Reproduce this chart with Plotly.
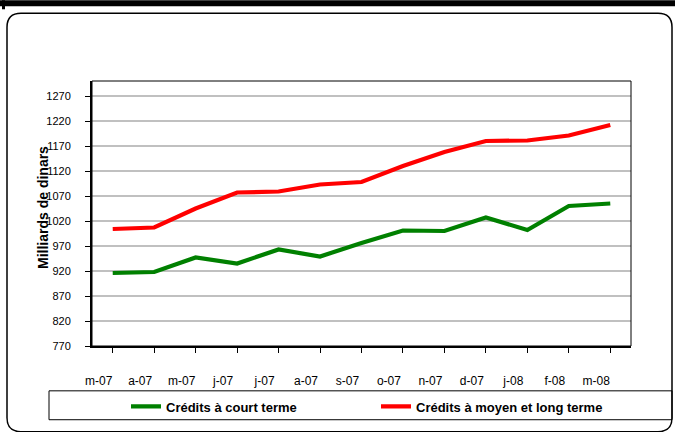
import plotly.graph_objects as go

months = ["m-07", "a-07", "m-07", "j-07", "j-07", "a-07", "s-07", "o-07",
          "n-07", "d-07", "j-08", "f-08", "m-08"]
court_terme = [916, 918, 947, 935, 963, 949, 976, 1001, 1000, 1027, 1002, 1050, 1055]
moyen_long_terme = [1004, 1007, 1045, 1077, 1079, 1093, 1098, 1130, 1158, 1180, 1181, 1191, 1212]
y_ticks = [770, 820, 870, 920, 970, 1020, 1070, 1120, 1170, 1220, 1270]

W, H = 675, 432
ML, MR, MT, MB = 92, 44, 81, 85
PW, PH = W - ML - MR, H - MT - MB

def fx(px):
    return (px - ML) / PW

def fy(py):
    return (H - MB - py) / PH

x_idx = list(range(len(months)))

fig = go.Figure()
fig.add_trace(go.Scatter(x=x_idx, y=court_terme, mode="lines",
                         name="<b>Crédits à court terme</b>",
                         line=dict(color="#008000", width=4.2)))
fig.add_trace(go.Scatter(x=x_idx, y=moyen_long_terme, mode="lines",
                         name="<b>Crédits à moyen et long terme</b>",
                         line=dict(color="#ff0000", width=4.2)))

font = "Liberation Sans, Arial, sans-serif"

# rounded outer frame
x0, x1, y0, y1, r = 7, 672, 13, 433, 14
path = (f"M {fx(x0+r)},{fy(y0)} L {fx(x1-r)},{fy(y0)} Q {fx(x1)},{fy(y0)} {fx(x1)},{fy(y0+r)} "
        f"L {fx(x1)},{fy(y1-r)} Q {fx(x1)},{fy(y1)} {fx(x1-r)},{fy(y1)} "
        f"L {fx(x0+r)},{fy(y1)} Q {fx(x0)},{fy(y1)} {fx(x0)},{fy(y1-r)} "
        f"L {fx(x0)},{fy(y0+r)} Q {fx(x0)},{fy(y0)} {fx(x0+r)},{fy(y0)} Z")

shapes = [
    dict(type="path", path=path, xref="paper", yref="paper",
         line=dict(color="black", width=1.5), layer="below"),
    dict(type="rect", xref="paper", yref="paper", x0=fx(0), x1=fx(676), y0=fy(0), y1=fy(6),
         line=dict(width=0), fillcolor="black"),
    dict(type="rect", xref="paper", yref="paper", x0=fx(2), x1=fx(5), y0=fy(0), y1=fy(9),
         line=dict(width=0), fillcolor="black"),
    dict(type="rect", xref="paper", yref="paper", x0=0, x1=1, y0=0, y1=1,
         line=dict(color="black", width=1)),
    # legend box
    dict(type="rect", xref="paper", yref="paper", x0=fx(49), x1=fx(672), y0=fy(421), y1=fy(392),
         line=dict(color="black", width=1)),
]

fig.update_layout(
    width=W, height=H,
    margin=dict(l=ML, r=MR, t=MT, b=MB),
    paper_bgcolor="white", plot_bgcolor="white",
    font=dict(family=font, color="black"),
    shapes=shapes,
    showlegend=True,
    legend=dict(orientation="h", x=fx(126), y=fy(406.5), xanchor="left", yanchor="middle",
                font=dict(size=13, family=font), entrywidth=205,
                bgcolor="rgba(0,0,0,0)", borderwidth=0),
    annotations=[dict(text="<b>Milliards de dinars</b>", x=fx(42.5), y=fy(208),
                      xref="paper", yref="paper", showarrow=False, textangle=-90,
                      xanchor="center", yanchor="middle",
                      font=dict(size=14, family=font))],
)

fig.update_xaxes(
    range=[-0.5, len(months) - 0.5],
    tickmode="array", tickvals=x_idx, ticktext=months,
    showgrid=False, zeroline=False,
    showline=True, linecolor="black", linewidth=2,
    ticks="outside", ticklen=5, tickcolor="black", tickwidth=1,
    tickson="boundaries",
    ticklabelstandoff=18, ticklabelshift=-14,
    tickfont=dict(size=12, family=font),
)
fig.update_yaxes(
    range=[770, 1300],
    tickmode="array", tickvals=y_ticks,
    showgrid=True, gridcolor="#c0c0c0", gridwidth=1.5,
    zeroline=False,
    showline=True, linecolor="black", linewidth=2,
    ticks="outside", ticklen=5, tickcolor="black", tickwidth=1,
    ticklabelstandoff=12,
    tickfont=dict(size=11, family=font),
)

fig.write_html("out.html", config={"displayModeBar": False},
               post_script="document.body.style.margin='0';")
